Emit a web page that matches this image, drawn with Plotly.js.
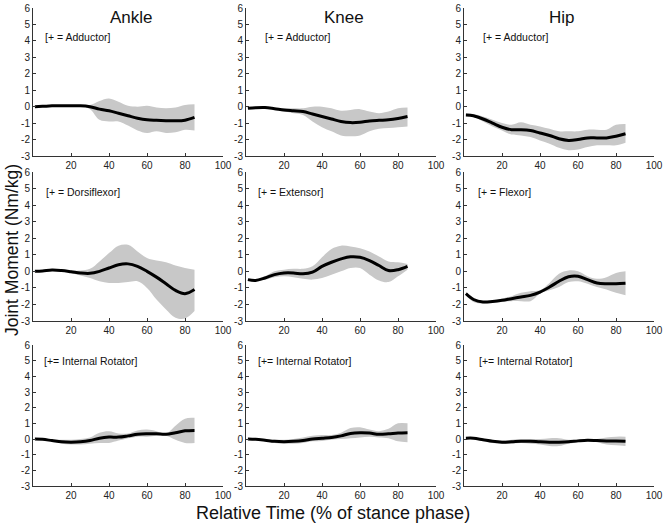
<!DOCTYPE html>
<html>
<head>
<meta charset="utf-8">
<script src="https://cdn.plot.ly/plotly-3.0.1.min.js"></script>
<style>
  body { margin: 0; background: #fff; }
  #chart { width: 664px; height: 523px; }
</style>
</head>
<body>
<div id="chart"></div>
<script>
// % of stance phase
const time = [1, 5, 10, 15, 20, 25, 30, 35, 40, 45, 50, 55, 60, 65, 70, 75, 80, 85];

const joints = ["Ankle", "Knee", "Hip"];
const signLabels = [
    ["[+ = Adductor]", "[+ = Adductor]", "[+ = Adductor]"],
    ["[+ = Dorsiflexor]", "[+ = Extensor]", "[+ = Flexor]"],
    ["[+= Internal Rotator]", "[+= Internal Rotator]", "[+= Internal Rotator]"]
];

const xTicks = [20, 40, 60, 80, 100];
const yTicks = [-3, -2, -1, 0, 1, 2, 3, 4, 5, 6];
const yTickText = ["-3", "-2", "-1", "0", "1", "2", "3", "4", "5", "6"];

// row 1: frontal plane
const ankleAddMean = [0.0, 0.02, 0.05, 0.06, 0.05, 0.06, 0.0, -0.15, -0.25, -0.4, -0.55, -0.7, -0.8, -0.83, -0.85, -0.86, -0.82, -0.65];
const ankleAddUpper = [0.02, 0.04, 0.08, 0.09, 0.08, 0.1, 0.1, 0.35, 0.5, 0.3, 0.05, 0.0, 0.05, -0.05, -0.1, -0.05, 0.1, 0.15];
const ankleAddLower = [-0.02, 0.0, 0.02, 0.03, 0.02, 0.02, -0.15, -0.8, -0.9, -0.9, -1.15, -1.45, -1.6, -1.5, -1.6, -1.55, -1.4, -1.45];

const kneeAddMean = [-0.1, -0.06, -0.05, -0.12, -0.2, -0.25, -0.3, -0.45, -0.6, -0.75, -0.9, -0.97, -0.95, -0.87, -0.83, -0.8, -0.72, -0.6];
const kneeAddUpper = [-0.08, -0.04, -0.03, -0.06, -0.1, -0.1, -0.1, 0.0, 0.0, -0.1, -0.25, -0.2, -0.15, -0.3, -0.4, -0.3, -0.1, -0.05];
const kneeAddLower = [-0.12, -0.08, -0.08, -0.18, -0.3, -0.4, -0.5, -0.9, -1.25, -1.5, -1.75, -1.8, -1.75, -1.5, -1.35, -1.3, -1.25, -1.2];

const hipAddMean = [-0.5, -0.55, -0.75, -1.0, -1.25, -1.4, -1.4, -1.45, -1.6, -1.75, -1.95, -2.05, -2.0, -1.9, -1.9, -1.9, -1.8, -1.65];
const hipAddUpper = [-0.4, -0.45, -0.6, -0.8, -1.0, -1.1, -0.95, -1.1, -1.2, -1.35, -1.5, -1.5, -1.5, -1.4, -1.4, -1.4, -1.1, -1.05];
const hipAddLower = [-0.55, -0.65, -0.9, -1.2, -1.45, -1.7, -1.75, -1.85, -2.05, -2.25, -2.5, -2.65, -2.6, -2.45, -2.35, -2.35, -2.35, -2.2];

// row 2: sagittal plane
const ankleFlexMean = [0.0, 0.02, 0.08, 0.05, -0.02, -0.1, -0.12, 0.0, 0.2, 0.4, 0.45, 0.3, 0.0, -0.35, -0.75, -1.15, -1.35, -1.1];
const ankleFlexUpper = [0.02, 0.05, 0.1, 0.08, 0.05, 0.05, 0.15, 0.6, 1.1, 1.55, 1.6, 1.2, 0.8, 0.65, 0.55, 0.35, 0.2, 0.1];
const ankleFlexLower = [-0.02, 0.0, 0.05, 0.0, -0.1, -0.25, -0.4, -0.6, -0.7, -0.7, -0.65, -0.6, -1.0, -1.7, -2.3, -2.8, -2.85, -2.4];

const kneeExtMean = [-0.5, -0.55, -0.4, -0.2, -0.1, -0.1, -0.15, -0.05, 0.3, 0.55, 0.75, 0.88, 0.85, 0.65, 0.35, 0.05, 0.1, 0.3];
const kneeExtUpper = [-0.45, -0.5, -0.3, 0.0, 0.1, 0.15, 0.15, 0.3, 0.85, 1.35, 1.55, 1.5, 1.4, 1.2, 0.9, 0.6, 0.55, 0.45];
const kneeExtLower = [-0.55, -0.6, -0.5, -0.35, -0.3, -0.35, -0.45, -0.5, -0.4, -0.2, 0.0, 0.2, 0.2, -0.2, -0.55, -0.65, -0.3, 0.1];

const hipFlexMean = [-1.35, -1.7, -1.85, -1.82, -1.75, -1.65, -1.55, -1.45, -1.25, -0.95, -0.6, -0.33, -0.3, -0.5, -0.7, -0.75, -0.75, -0.72];
const hipFlexUpper = [-1.25, -1.6, -1.8, -1.75, -1.65, -1.5, -1.3, -1.2, -1.15, -0.7, -0.15, 0.05, 0.0, -0.3, -0.45, -0.35, -0.1, 0.0];
const hipFlexLower = [-1.45, -1.85, -1.95, -1.9, -1.85, -1.8, -1.8, -1.8, -1.35, -1.15, -0.95, -0.65, -0.6, -0.75, -0.95, -1.1, -1.3, -1.45];

// row 3: transverse plane
const ankleRotMean = [0.0, -0.02, -0.1, -0.18, -0.2, -0.18, -0.1, 0.05, 0.12, 0.12, 0.2, 0.3, 0.33, 0.33, 0.3, 0.4, 0.52, 0.55];
const ankleRotUpper = [0.02, 0.0, -0.05, -0.05, -0.05, 0.0, 0.1, 0.4, 0.5, 0.35, 0.35, 0.55, 0.6, 0.5, 0.35, 0.85, 1.3, 1.35];
const ankleRotLower = [-0.02, -0.05, -0.15, -0.3, -0.35, -0.35, -0.3, -0.25, -0.25, -0.1, 0.05, 0.15, 0.15, 0.2, 0.2, -0.05, -0.25, -0.25];

const kneeRotMean = [0.0, -0.02, -0.08, -0.15, -0.17, -0.15, -0.1, 0.0, 0.05, 0.1, 0.2, 0.35, 0.4, 0.38, 0.3, 0.33, 0.38, 0.4];
const kneeRotUpper = [0.02, 0.0, -0.05, -0.05, -0.05, 0.0, 0.1, 0.2, 0.25, 0.25, 0.4, 0.7, 0.75, 0.6, 0.5, 0.65, 1.0, 1.0];
const kneeRotLower = [-0.02, -0.04, -0.12, -0.25, -0.3, -0.3, -0.25, -0.15, -0.12, -0.05, 0.0, 0.05, 0.1, 0.15, 0.1, 0.05, -0.15, -0.2];

const hipRotMean = [0.05, 0.05, -0.05, -0.15, -0.2, -0.18, -0.15, -0.15, -0.18, -0.2, -0.2, -0.18, -0.12, -0.08, -0.1, -0.12, -0.13, -0.15];
const hipRotUpper = [0.07, 0.07, 0.0, -0.05, -0.1, -0.05, 0.0, 0.0, 0.0, 0.05, 0.05, -0.05, -0.05, 0.0, 0.0, 0.1, 0.15, 0.15];
const hipRotLower = [0.03, 0.03, -0.1, -0.25, -0.3, -0.3, -0.25, -0.3, -0.35, -0.45, -0.45, -0.3, -0.2, -0.15, -0.2, -0.35, -0.4, -0.45];

const panels = [
    [ankleAddMean, ankleAddUpper, ankleAddLower], [kneeAddMean, kneeAddUpper, kneeAddLower], [hipAddMean, hipAddUpper, hipAddLower],
    [ankleFlexMean, ankleFlexUpper, ankleFlexLower], [kneeExtMean, kneeExtUpper, kneeExtLower], [hipFlexMean, hipFlexUpper, hipFlexLower],
    [ankleRotMean, ankleRotUpper, ankleRotLower], [kneeRotMean, kneeRotUpper, kneeRotLower], [hipRotMean, hipRotUpper, hipRotLower]
];

// label positions in data coords (x, y) for each panel
const labelX = [5, 9, 9, 6, 5.5, 6.5, 4.5, 5.5, 7];
const labelY = [4.25, 4.25, 4.25, 4.8, 4.8, 4.8, 5.0, 5.0, 5.0];

const W = 664, H = 523;
const colPx = [[33, 223], [246, 436], [464, 654]];
const rowPx = [[8, 156], [172, 321], [345, 486]];

const font = "Liberation Sans, Arial, Helvetica, sans-serif";
const data = [];
const layout = {
    width: W,
    height: H,
    margin: { l: 0, r: 0, t: 0, b: 0 },
    paper_bgcolor: "#fff",
    plot_bgcolor: "rgba(0,0,0,0)",
    showlegend: false,
    font: { family: font, color: "#222" },
    annotations: []
};

panels.forEach(([mean, upper, lower], i) => {
    const row = Math.floor(i / 3), col = i % 3;
    const n = i + 1;
    const xa = "x" + (n === 1 ? "" : n), ya = "y" + (n === 1 ? "" : n);

    data.push({
        x: time, y: lower, xaxis: xa, yaxis: ya, type: "scatter", mode: "lines",
        line: { width: 0, shape: "spline" }, hoverinfo: "skip"
    });
    data.push({
        x: time, y: upper, xaxis: xa, yaxis: ya, type: "scatter", mode: "lines",
        line: { width: 0, shape: "spline" }, fill: "tonexty", fillcolor: "#c8c8c8", hoverinfo: "skip"
    });
    data.push({
        x: time, y: mean, xaxis: xa, yaxis: ya, type: "scatter", mode: "lines",
        line: { width: 3, color: "#000", shape: "spline" }
    });

    const axKey = n === 1 ? "" : n;
    layout["xaxis" + axKey] = {
        domain: [colPx[col][0] / W, colPx[col][1] / W],
        range: [0, 100],
        anchor: ya,
        tickvals: xTicks,
        ticks: "inside", ticklen: 3, tickcolor: "#333",
        showline: true, linecolor: "#333", linewidth: 1,
        showgrid: false, zeroline: false,
        tickfont: { size: 10, color: "#222" },
        fixedrange: true
    };
    layout["yaxis" + axKey] = {
        domain: [1 - rowPx[row][1] / H, 1 - rowPx[row][0] / H],
        range: [-3, 6],
        anchor: xa,
        tickvals: yTicks, ticktext: yTickText,
        ticks: "inside", ticklen: 3, tickcolor: "#333",
        showline: true, linecolor: "#333", linewidth: 1,
        showgrid: false, zeroline: false,
        tickfont: { size: 10, color: "#222" },
        fixedrange: true
    };

    layout.annotations.push({
        xref: xa, yref: ya, x: labelX[i], y: labelY[i],
        text: signLabels[row][col], showarrow: false,
        xanchor: "left", yanchor: "middle",
        font: { size: 10.5, color: "#111" }
    });
});

joints.forEach((name, col) => {
    layout.annotations.push({
        xref: "paper", yref: "paper",
        x: (colPx[col][0] + colPx[col][1] + 6) / 2 / W, y: 1 - 17 / H,
        text: name, showarrow: false, xanchor: "center", yanchor: "middle",
        font: { size: 17, color: "#111" }
    });
});

layout.annotations.push({
    xref: "paper", yref: "paper", x: 12 / W, y: 1 - 250 / H,
    text: "Joint Moment (Nm/kg)", showarrow: false, textangle: -90,
    xanchor: "center", yanchor: "middle",
    font: { size: 17.5, color: "#111" }
});
layout.annotations.push({
    xref: "paper", yref: "paper", x: 333 / W, y: 1 - 513 / H,
    text: "Relative Time (% of stance phase)", showarrow: false,
    xanchor: "center", yanchor: "middle",
    font: { size: 18, color: "#111" }
});

Plotly.newPlot("chart", data, layout, { displayModeBar: false, staticPlot: true });
</script>
</body>
</html>
